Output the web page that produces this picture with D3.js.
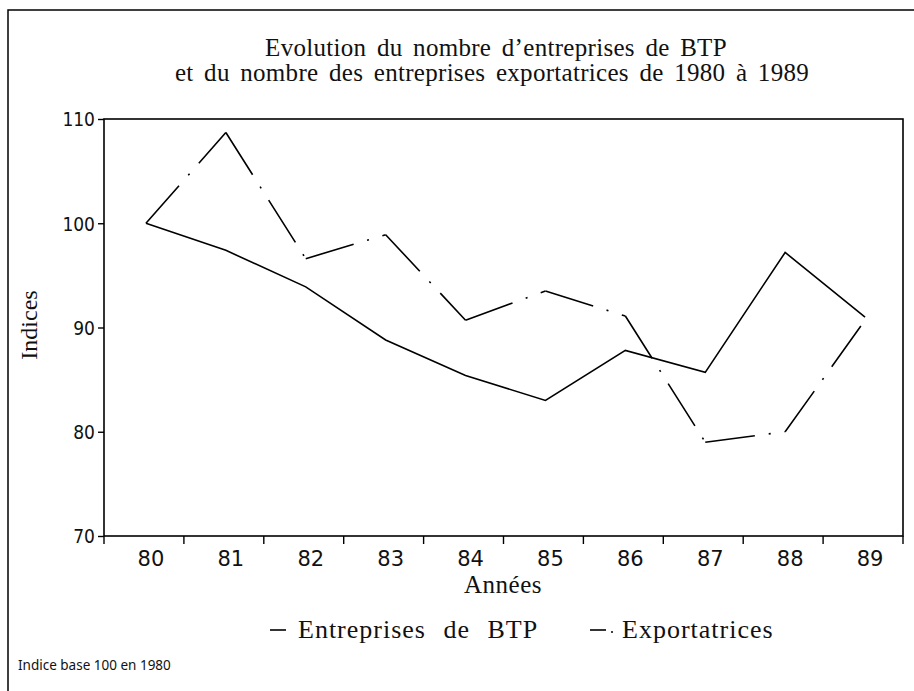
<!DOCTYPE html>
<html>
<head>
<meta charset="utf-8">
<script src="https://cdn.jsdelivr.net/npm/d3@7"></script>
<style>
  body { margin: 0; background: #fff; }
  svg { display: block; }
</style>
</head>
<body>
<svg id="chart" width="914" height="691"></svg>
<script>
'use strict';

// values (index, base 100 in 1980)
var years = ['80', '81', '82', '83', '84', '85', '86', '87', '88', '89'];
var btpValues = [100, 97.4, 93.9, 88.8, 85.4, 83.0, 87.8, 85.7, 97.2, 91.0];
var exportValues = [100, 108.7, 96.6, 98.9, 90.7, 93.5, 91.1, 79.0, 80.0, 90.7];
var yTickValues = [70, 80, 90, 100, 110];

var serif = '"Liberation Serif", "DejaVu Serif", serif';
var sans = '"DejaVu Sans", sans-serif';

var svg = d3.select('#chart');

var plot = { left: 104, right: 903, top: 119, bottom: 536 };

var x = d3.scaleBand()
        .domain(years)
        .range([plot.left, plot.right])
        .padding(0);

var y = d3.scaleLinear()
        .domain([70, 110])
        .range([plot.bottom, plot.top]);

// point position inside a band (the originals sit a touch right of centre)
var px = function(year) {
    return x(year) + x.bandwidth() / 2 + 2;
};

// outer frame of the page (top and left edges only are visible)
svg.append('path')
        .attr('d', 'M8,691V10H914')
        .attr('fill', 'none')
        .attr('stroke', '#000')
        .attr('stroke-width', 1.5);

// title
var title = svg.append('text')
        .attr('text-anchor', 'middle')
        .attr('font-family', serif)
        .attr('font-size', 25)
        .attr('letter-spacing', 0.3)
        .attr('word-spacing', 4)
        .attr('fill', '#111');
title.append('tspan')
        .attr('x', 496).attr('y', 56)
        .text('Evolution du nombre d\u2019entreprises de BTP');
title.append('tspan')
        .attr('x', 492).attr('y', 81)
        .text('et du nombre des entreprises exportatrices de 1980 \u00e0 1989');

// plot frame
svg.append('rect')
        .attr('x', plot.left)
        .attr('y', plot.top)
        .attr('width', plot.right - plot.left)
        .attr('height', plot.bottom - plot.top)
        .attr('fill', 'none')
        .attr('stroke', '#000')
        .attr('stroke-width', 1.6);

// y axis
var yAxis = d3.axisLeft(y)
        .tickValues(yTickValues)
        .tickSize(6)
        .tickPadding(3);
var gy = svg.append('g')
        .attr('transform', 'translate(' + plot.left + ',0)')
        .call(yAxis);
gy.select('.domain').remove();
gy.selectAll('line').attr('stroke', '#000').attr('stroke-width', 1.4);
gy.selectAll('text')
        .attr('font-family', '"DejaVu Sans Condensed", ' + sans)
        .attr('font-size', 19)
        .attr('fill', '#111')
        .attr('dy', '0.36em');

// x axis: ticks on band boundaries, labels in the bands
var boundaries = years.map(function(d) { return x(d); }).concat([plot.right]);
svg.append('g')
        .selectAll('line')
        .data(boundaries)
        .join('line')
        .attr('x1', function(d) { return d; })
        .attr('x2', function(d) { return d; })
        .attr('y1', plot.bottom)
        .attr('y2', plot.bottom + 8)
        .attr('stroke', '#000')
        .attr('stroke-width', 1.4);

svg.append('g')
        .selectAll('text')
        .data(years)
        .join('text')
        .attr('x', function(d) { return px(d) + 5; })
        .attr('y', 566)
        .attr('text-anchor', 'middle')
        .attr('font-family', sans)
        .attr('font-size', 21)
        .attr('fill', '#111')
        .text(function(d) { return d; });

// axis titles
svg.append('text')
        .attr('x', 503)
        .attr('y', 593)
        .attr('text-anchor', 'middle')
        .attr('font-family', serif)
        .attr('font-size', 25)
        .attr('letter-spacing', 0.5)
        .attr('fill', '#111')
        .text('Ann\u00e9es');

svg.append('text')
        .attr('transform', 'translate(37,325) rotate(-90)')
        .attr('text-anchor', 'middle')
        .attr('font-family', serif)
        .attr('font-size', 24)
        .attr('fill', '#111')
        .text('Indices');

// series
var btpPoints = years.map(function(d, i) { return [px(d), y(btpValues[i])]; });
var exportPoints = years.map(function(d, i) { return [px(d), y(exportValues[i])]; });

svg.append('path')
        .attr('d', d3.line()(btpPoints))
        .attr('fill', 'none')
        .attr('stroke', '#000')
        .attr('stroke-width', 1.6)
        .attr('stroke-linejoin', 'miter');

// dash-dot pattern restarts at every vertex, so draw segment by segment
svg.append('g')
        .selectAll('path')
        .data(d3.pairs(exportPoints))
        .join('path')
        .attr('d', function(d) { return d3.line()(d); })
        .attr('fill', 'none')
        .attr('stroke', '#000')
        .attr('stroke-width', 1.6)
        .attr('stroke-dasharray', '50,14,2,14');

// legend
var legendY = 638;
svg.append('line')
        .attr('x1', 270).attr('x2', 286)
        .attr('y1', legendY - 8).attr('y2', legendY - 8)
        .attr('stroke', '#000').attr('stroke-width', 1.6);
svg.append('text')
        .attr('x', 298).attr('y', legendY)
        .attr('font-family', serif)
        .attr('font-size', 26)
        .attr('letter-spacing', 1)
        .attr('word-spacing', 10)
        .attr('fill', '#111')
        .text('Entreprises de BTP');

svg.append('line')
        .attr('x1', 590).attr('x2', 606)
        .attr('y1', legendY - 8).attr('y2', legendY - 8)
        .attr('stroke', '#000').attr('stroke-width', 1.6);
svg.append('circle')
        .attr('cx', 612).attr('cy', legendY - 6)
        .attr('r', 1)
        .attr('fill', '#000');
svg.append('text')
        .attr('x', 622).attr('y', legendY)
        .attr('font-family', serif)
        .attr('font-size', 26)
        .attr('letter-spacing', 1)
        .attr('fill', '#111')
        .text('Exportatrices');

// footnote
svg.append('text')
        .attr('x', 18).attr('y', 670)
        .attr('font-family', '"Noto Sans", sans-serif')
        .attr('font-size', 13.5)
        .attr('fill', '#111')
        .text('Indice base 100 en 1980');
</script>
</body>
</html>
